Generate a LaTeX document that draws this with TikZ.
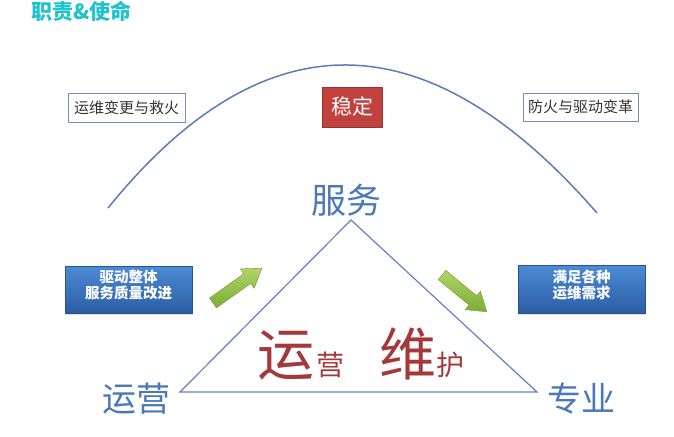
\documentclass[tikz,border=0pt]{standalone}
\usepackage{fontspec}
\setmainfont{Noto Sans CJK SC}
\usetikzlibrary{shadows}
\definecolor{titlecol}{HTML}{1EC3CC}
\definecolor{arccol}{HTML}{5A7DB6}
\definecolor{tricol}{HTML}{5F84BE}
\definecolor{bluetxt}{HTML}{4A78B8}
\definecolor{redbox}{HTML}{C0413E}
\definecolor{redtxt}{HTML}{A5393A}
\definecolor{boxtop}{HTML}{4D8BD6}
\definecolor{boxbot}{HTML}{2B5DA2}
\definecolor{greenlt}{HTML}{B0D466}
\definecolor{greendk}{HTML}{7DAD37}
\definecolor{wborder}{HTML}{6F8FC2}
\begin{document}
\begin{tikzpicture}[x=1pt,y=-1pt,
  cjk/.style={inner sep=0pt, anchor=base},
  wbox/.style={draw=wborder, line width=1pt, fill=white, inner sep=0pt, text=black!80,
    font=\fontsize{15}{18}\selectfont, text height=12pt, text depth=0.75pt},
  bbox/.style={draw=boxbot!90!black, line width=0.6pt, top color=boxtop, bottom color=boxbot,
    text=white, inner sep=0pt, align=center, font=\fontsize{14.5}{16}\selectfont\bfseries,
    text height=24pt, text depth=6pt,
    drop shadow={shadow xshift=1pt, shadow yshift=-1.5pt, opacity=0.25}},
  rbox/.style={draw=redbox!80!black, line width=0.6pt, fill=redbox, text=white, inner sep=0pt,
    font=\fontsize{21}{24}\selectfont, text height=16.8pt, text depth=1.05pt},
  bluelbl/.style={cjk, text=bluetxt},
  redlbl/.style={cjk, text=redtxt},
  garrow/.style={top color=greenlt, bottom color=greendk, draw=greendk!90!black, line width=0.4pt}
]
\useasboundingbox (0,0) rectangle (674,436);

% title
\node[cjk, text=titlecol, font=\fontsize{21}{24}\selectfont\bfseries] (title) at (81.5,20) {职责\&使命};

% arc
\draw[arccol, line width=1.5pt] (108,208) .. controls (263.7,15.7) and (426.7,17.3) .. (597,213);

% top boxes
\node[wbox, minimum width=117, minimum height=29] (b1) at (126.5,107.5) {运维变更与救火};
\node[wbox, minimum width=115, minimum height=28] (b2) at (580.5,107) {防火与驱动变革};
\node[rbox, minimum width=60, minimum height=40] (stable) at (352,107) {稳定};

% triangle
\coordinate (apex) at (351,220);
\coordinate (bl) at (180,392);
\coordinate (br) at (537,392);
\draw[tricol, line width=1.2pt, line join=miter] (apex) -- (br) -- (bl) -- cycle;

% labels
\node[bluelbl, font=\fontsize{35}{40}\selectfont] (fw) at (346,213) {服务};
\node[bluelbl, font=\fontsize{34}{40}\selectfont] (yy) at (136,411) {运营};
\node[bluelbl, font=\fontsize{34}{40}\selectfont] (zy) at (581,411) {专业};

\node[redlbl, font=\fontsize{57}{60}\selectfont] (yun) at (286,375.5) {运};
\node[redlbl, font=\fontsize{28}{30}\selectfont] (ying) at (330,375.5) {营};
\node[redlbl, font=\fontsize{57}{60}\selectfont] (wei) at (408,375.5) {维};
\node[redlbl, font=\fontsize{28}{30}\selectfont] (hu) at (450,375.5) {护};

% blue boxes
\node[bbox, minimum width=127, minimum height=47] (lb) at (128.5,289.5) {驱动整体\\服务质量改进};
\node[bbox, minimum width=127, minimum height=48] (rb) at (581.5,289) {满足各种\\运维需求};

% green arrows
\begin{scope}[shift={(213,303)}, rotate=35.5]
  \path[garrow] (0,-6) -- (42,-6) -- (42,-12) -- (60,0) -- (42,12) -- (42,6) -- (0,6) -- cycle;
\end{scope}
\begin{scope}[shift={(442,275)}, rotate=-39.4]
  \path[garrow] (0,-6) -- (40,-6) -- (40,-12) -- (58,0) -- (40,12) -- (40,6) -- (0,6) -- cycle;
\end{scope}
\end{tikzpicture}
\end{document}
